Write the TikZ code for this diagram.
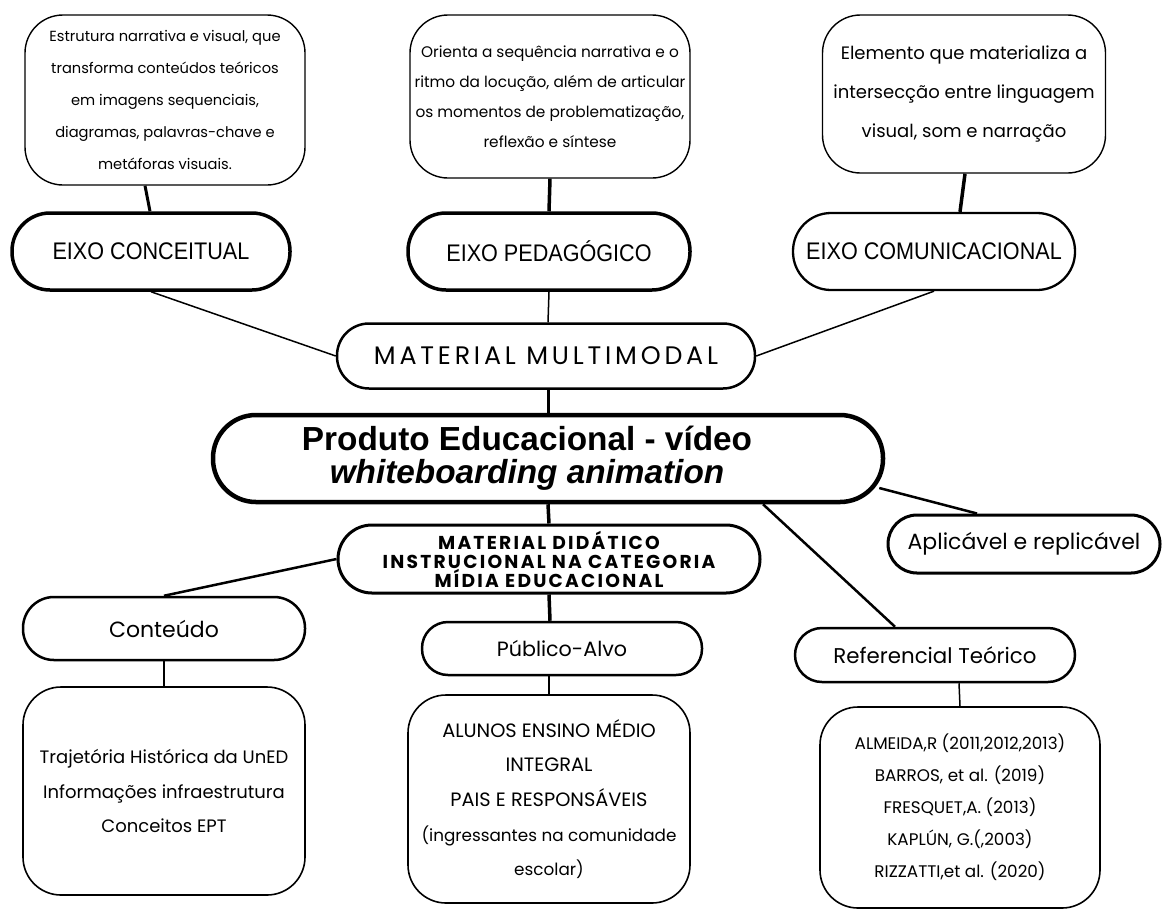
\documentclass[tikz,border=0pt]{standalone}
\usepackage{fontspec}
\setmainfont{Poppins}
\newfontfamily\hand{Poppins}
\newfontfamily\cond[FakeStretch=0.9]{Liberation Sans}
\newfontfamily\mmfont[LetterSpace=15]{Poppins}
\newfontfamily\mdfont[LetterSpace=12]{Poppins}
\newfontfamily\prodfont{Liberation Sans}
\newdimen\px \px=0.75pt
\begin{document}
\begin{tikzpicture}[x=0.75pt,y=-0.75pt,
  bx/.style={draw=black, fill=white, align=center, inner sep=0pt},
  sz/.style n args={3}{minimum width=#1\px, minimum height=#2\px, rounded corners=#3\px},
  lw/.style={line width=#1\px},
  conn/.style={draw=black, line width=#1\px},
]
\useasboundingbox[fill=white] (0,0) rectangle (1163,911);

% top description boxes
\node[bx, sz={280}{170}{38}, lw=1.4, font={\hand\fontsize{11}{24}\selectfont}] (b1) at (165,100)
  {Estrutura narrativa e visual, que\\transforma conteúdos teóricos\\em imagens sequenciais,\\diagramas, palavras-chave e\\metáforas visuais.};
\node[bx, sz={280}{163}{38}, lw=1.4, font={\hand\fontsize{11.5}{22.5}\selectfont}] (b2) at (550,96.5)
  {Orienta a sequência narrativa e o\\ritmo da locução, além de articular\\os momentos de problematização,\\reflexão e síntese};
\node[bx, sz={283}{158}{38}, lw=1.4, font={\hand\fontsize{13.5}{29}\selectfont}] (b3) at (964,94)
  {Elemento que materializa a\\intersecção entre linguagem\\visual, som e narração};

% eixos
\node[bx, sz={278}{77}{38}, lw=3.5, font={\cond\fontsize{18}{20}\selectfont}] (ec) at (151,251.5) {EIXO CONCEITUAL};
\node[bx, sz={282}{77}{38}, lw=3.5, font={\cond\fontsize{18}{20}\selectfont}] (ep) at (549,251.5) {EIXO PEDAGÓGICO};
\node[bx, sz={282}{77}{38}, lw=2.3, font={\cond\fontsize{18}{20}\selectfont}] (ecm) at (934,251.5) {EIXO COMUNICACIONAL};

% material multimodal
\node[bx, sz={418}{65}{32}, lw=2.5, font={\mmfont\fontsize{19}{20}\selectfont}] (mm) at (546,356) {MATERIAL MULTIMODAL};

% produto
\node[bx, sz={670}{87}{43}, lw=4.5] (prod) at (548,458.5) {};
\node[align=center, inner sep=0pt, font={\prodfont\bfseries\fontsize{25}{25}\selectfont}] (prodtxt) at ([xshift=-21\px]prod.center)
  {Produto Educacional - vídeo\\\itshape whiteboarding animation};

% material didatico
\node[bx, sz={422}{68}{34}, lw=3, font={\mdfont\bfseries\fontsize{14}{14.25}\selectfont}] (md) at (549,559)
  {MATERIAL DIDÁTICO\\INSTRUCIONAL NA CATEGORIA\\MÍDIA EDUCACIONAL};

% aplicavel
\node[bx, sz={272}{58}{29}, lw=3, font={\hand\fontsize{16.5}{18}\selectfont}] (apl) at (1024,544) {Aplicável e replicável};

% second level
\node[bx, sz={282}{63}{31}, lw=2.5, font={\hand\fontsize{16.5}{18}\selectfont}] (cont) at (164,628.5) {Conteúdo};
\node[bx, sz={280}{53}{26}, lw=2.5, font={\hand\fontsize{15.5}{17}\selectfont}] (pub) at (562,648.5) {Público-Alvo};
\node[bx, sz={280}{54}{27}, lw=2.5, font={\hand\fontsize{16}{18}\selectfont}] (ref) at (935,655) {Referencial Teórico};

% bottom boxes
\node[bx, sz={282}{208}{38}, lw=1.6, font={\hand\fontsize{13.5}{26}\selectfont}] (contb) at (164,791)
  {Trajetória Histórica da UnED\\Informações infraestrutura\\Conceitos EPT};
\node[bx, sz={282}{208}{38}, lw=1.6, font={\hand\fontsize{12.6}{26}\selectfont}] (pubb) at (549,799)
  {{\fontsize{14.5}{26}\selectfont ALUNOS ENSINO MÉDIO}\\{\fontsize{14.5}{26}\selectfont INTEGRAL}\\{\fontsize{14.5}{26}\selectfont PAIS E RESPONSÁVEIS}\\(ingressantes na comunidade\\escolar)};
\node[bx, sz={280}{201}{38}, lw=1.6, font={\hand\fontsize{12.6}{24}\selectfont}] (refb) at (960,807.5)
  {ALMEIDA,R (2011,2012,2013)\\BARROS, et al. (2019)\\FRESQUET,A. (2013)\\KAPLÚN, G.(,2003)\\RIZZATTI,et al. (2020)};

% connectors
\draw[conn=3] ([xshift=-20\px]b1.south) -- ([xshift=-1\px]ec.north);
\draw[conn=3.5] (b2.south) -- (ep.north);
\draw[conn=3.5] ([xshift=1\px]b3.south) -- ([xshift=26\px]ecm.north);
\draw[conn=1.5] (ec.south) -- (mm.west);
\draw[conn=1.5] (ep.south) -- ([xshift=2\px]mm.north);
\draw[conn=1.5] (ecm.south) -- (mm.east);
\draw[conn=3] ([xshift=2\px]mm.south) -- (prod.north);
\draw[conn=3.5] (prod.south) -- (md.north);
\draw[conn=2.5] ([xshift=-6\px,yshift=-29.5\px]prod.east) -- ([xshift=-47\px]apl.north);
\draw[conn=2.5] ([xshift=215\px]prod.south) -- ([xshift=-40\px]ref.north);
\draw[conn=2.5] (md.west) -- (cont.north);
\draw[conn=3.5] (md.south) -- ([xshift=-12\px]pub.north);
\draw[conn=1.5] (cont.south) -- (contb.north);
\draw[conn=1.5] ([xshift=-13\px]pub.south) -- (pubb.north);
\draw[conn=1.5] ([xshift=24\px]ref.south) -- (refb.north);
\end{tikzpicture}
\end{document}
